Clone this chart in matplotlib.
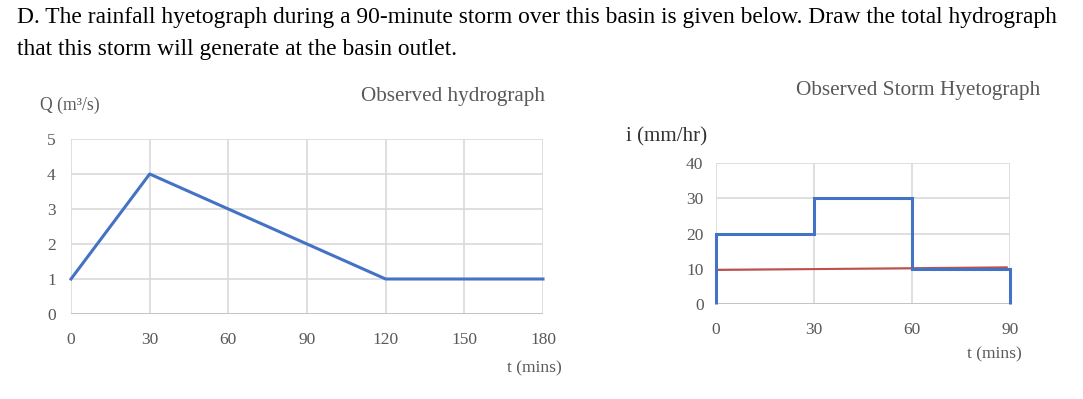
import matplotlib.pyplot as plt

# hydrograph
hyd_t = [0, 30, 120, 180]
hyd_q = [1, 4, 1, 1]
hyd_xticks = [0, 30, 60, 90, 120, 150, 180]
hyd_yticks = [0, 1, 2, 3, 4, 5]

# hyetograph
hye_edges = [0, 30, 60, 90]
hye_i = [20, 30, 10]
phi_t = [0, 89]
phi_i = [9.65, 10.4]
hye_xticks = [0, 30, 60, 90]
hye_yticks = [0, 10, 20, 30, 40]

plt.rcParams['font.family'] = ['Liberation Serif', 'DejaVu Serif']
W, H = 1083, 399
gray = '#595959'
grid_c = '#d9d9d9'
blue = '#4472c4'
red = '#c0504d'

fig = plt.figure(figsize=(W / 100, H / 100), dpi=100)


def px_axes(x0, y0, x1, y1):
    return fig.add_axes([x0 / W, 1 - y1 / H, (x1 - x0) / W, (y1 - y0) / H])


def style(ax, xt, yt):
    ax.set_xlim(xt[0], xt[-1])
    ax.set_ylim(yt[0], yt[-1])
    ax.set_xticks(xt)
    ax.set_yticks(yt)
    for s in ax.spines.values():
        s.set_visible(False)
    ax.grid(True, color=grid_c, lw=1.2)
    ax.set_axisbelow(True)
    ax.tick_params(length=0, labelsize=12.5, labelcolor=gray)
    ax.tick_params(axis='x', pad=13)
    ax.tick_params(axis='y', pad=11)
    ax.axhline(yt[0], color='#bfbfbf', lw=1.2, zorder=1.5)


fig.text(17 / W, 1 - 18 / H,
         "D. The rainfall hyetograph during a 90-minute storm over this basin is given below. Draw the total hydrograph",
         fontsize=16.9, va='center', ha='left')
fig.text(17 / W, 1 - 50 / H, "that this storm will generate at the basin outlet.",
         fontsize=16.9, va='center', ha='left')

ax1 = px_axes(71, 139, 543, 314)
style(ax1, hyd_xticks, hyd_yticks)
ax1.plot(hyd_t, hyd_q, color=blue, lw=2.2, clip_on=False, zorder=3)
fig.text(40 / W, 1 - 105 / H, "Q (m³/s)", fontsize=12.7, color=gray, va='center', ha='left')
fig.text(453 / W, 1 - 97 / H, "Observed hydrograph", fontsize=15.2, color=gray, va='center', ha='center')
fig.text(562 / W, 1 - 368 / H, "t (mins)", fontsize=12.6, color=gray, va='center', ha='right')

ax2 = px_axes(716, 163, 1010, 304)
style(ax2, hye_xticks, hye_yticks)
ax2.tick_params(axis='y', pad=9)
ax2.stairs(hye_i, hye_edges, baseline=0, color=blue, lw=2.2, clip_on=False, zorder=3)
ax2.plot(phi_t, phi_i, color=red, lw=1.5, zorder=2.5)
fig.text(626 / W, 1 - 137 / H, "i (mm/hr)", fontsize=15.1, color='#333333', va='center', ha='left')
fig.text(918 / W, 1 - 90 / H, "Observed Storm Hyetograph", fontsize=15.3, color=gray, va='center', ha='center')
fig.text(1022 / W, 1 - 354 / H, "t (mins)", fontsize=12.6, color=gray, va='center', ha='right')

fig.savefig('out.png', dpi=100)
